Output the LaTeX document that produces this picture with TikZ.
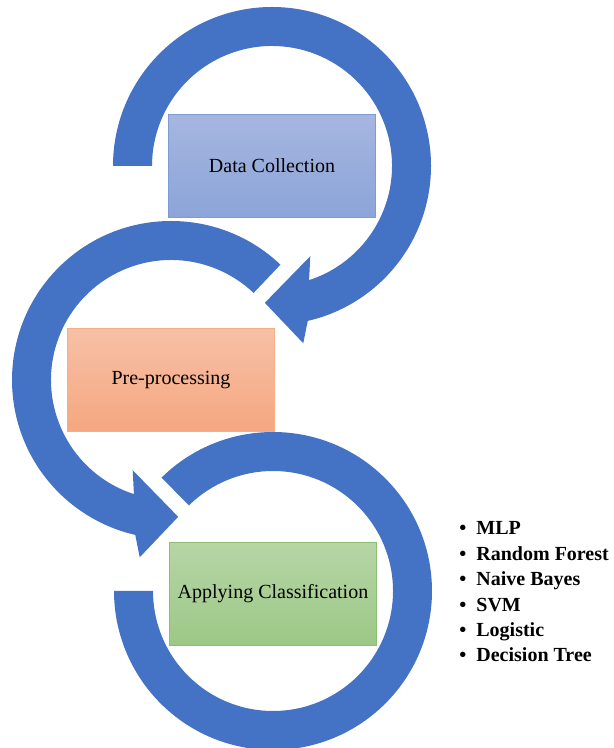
\documentclass[tikz,border=0pt]{standalone}
\usepackage{fontspec}
\setmainfont{Liberation Serif}
\usetikzlibrary{calc}

\definecolor{flowblue}{RGB}{68,114,196}
\definecolor{dctop}{RGB}{166,182,224}
\definecolor{dcbot}{RGB}{140,164,216}
\definecolor{dcline}{RGB}{125,155,213}
\definecolor{pptop}{RGB}{247,192,166}
\definecolor{ppbot}{RGB}{245,167,128}
\definecolor{ppline}{RGB}{244,176,132}
\definecolor{actop}{RGB}{182,213,166}
\definecolor{acbot}{RGB}{156,200,134}
\definecolor{acline}{RGB}{140,190,115}

\begin{document}
\begin{tikzpicture}[x=0.5pt, y=0.5pt,
    stage/.style={draw, line width=0.6pt, minimum width=103.5pt, minimum height=51.5pt, inner sep=0pt},
    flow/.style={fill=flowblue}]

    %--------------------%
    % Parameters
    %--------------------%
    \def\rout{159}
    \def\rin{120}
    \def\listsep{25.4}

    \useasboundingbox (0,0) rectangle (614,748);

    \coordinate (c1) at (272,582);
    \coordinate (c2) at (171,368);
    \coordinate (c3) at (273,157);

    %--------------------%
    % Arcs
    %--------------------%
    % top ring, clockwise, head at the bottom right
    \begin{scope}[shift={(c1)}]
        \fill[flow] (180:\rout) arc[start angle=180, end angle=-77, radius=\rout]
            -- (-80:180) -- (-93:137) -- (-67:98) -- (-72:\rin)
            arc[start angle=-72, end angle=180, radius=\rin] -- cycle;
    \end{scope}

    % middle ring, counter clockwise, head at the bottom
    \begin{scope}[shift={(c2)}]
        \fill[flow] (46.5:\rout) arc[start angle=46.5, end angle=257, radius=\rout]
            -- (260:180) -- (273:137) -- (247:98) -- (252:\rin)
            arc[start angle=252, end angle=46.5, radius=\rin] -- cycle;
    \end{scope}

    % bottom ring, no head
    \begin{scope}[shift={(c3)}]
        \fill[flow] (134.5:\rout) arc[start angle=134.5, end angle=-180, radius=\rout]
            -- (-180:\rin)
            arc[start angle=-180, end angle=134.5, radius=\rin] -- cycle;
    \end{scope}

    %--------------------%
    % Stages
    %--------------------%
    \node[stage, draw=dcline, top color=dctop, bottom color=dcbot] (collect) at (c1) {Data Collection};
    \node[stage, draw=ppline, top color=pptop, bottom color=ppbot] (prep) at (c2) {Pre-processing};
    \node[stage, draw=acline, top color=actop, bottom color=acbot] (classify) at ($(c3)+(0,-3)$) {Applying Classification};

    %--------------------%
    % Classifiers
    %--------------------%
    \foreach \name [count=\i] in {MLP, Random Forest, Naive Bayes, SVM, Logistic, Decision Tree}
        \node[anchor=base west, inner sep=0pt, font=\bfseries] (method\i) at (459, 213-\listsep*\i+\listsep) {\textbullet\hspace{5pt}\name};
\end{tikzpicture}
\end{document}
